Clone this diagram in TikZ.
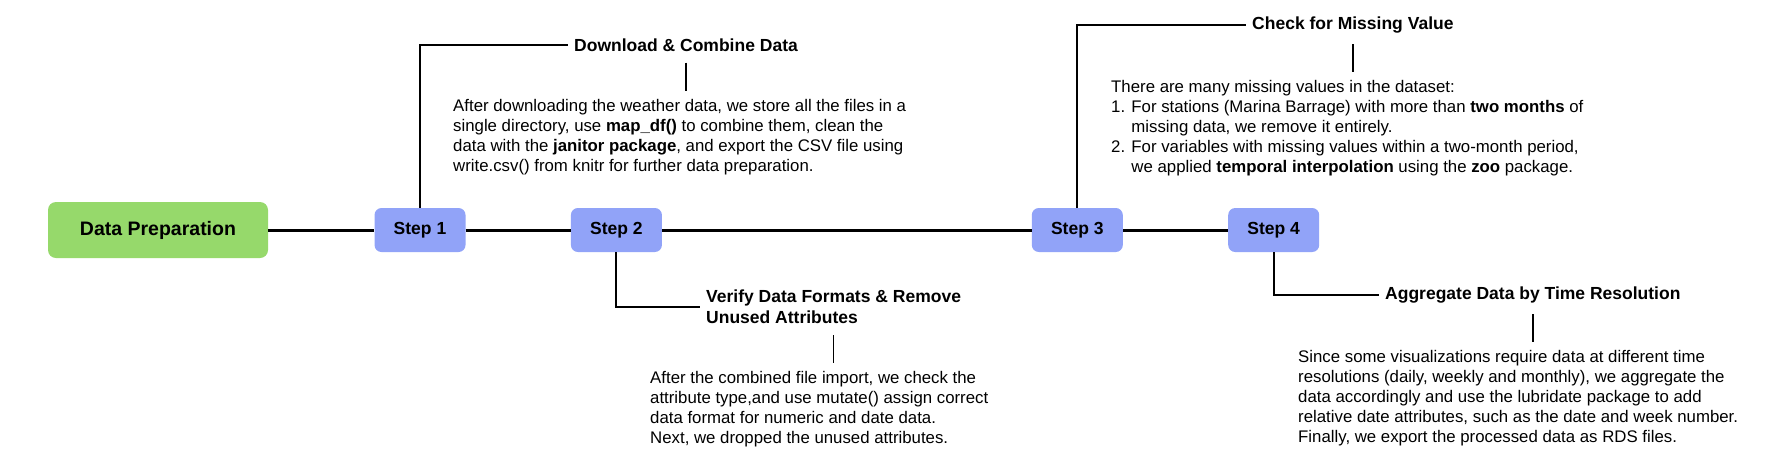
\documentclass[tikz,border=0pt]{standalone}
\usepackage{fontspec}
\setmainfont{Liberation Sans}
\usetikzlibrary{positioning}
\definecolor{prepgreen}{RGB}{150,217,107}
\definecolor{stepblue}{RGB}{145,163,248}

\begin{document}
\begin{tikzpicture}[x=1pt,y=-1pt,node distance=105pt]
    \tikzstyle{phase}=[fill=prepgreen, rounded corners=8pt, minimum width=220pt, minimum height=56pt, font=\fontsize{19.5}{22}\selectfont\bfseries]
    \tikzstyle{stepbox}=[fill=stepblue, rounded corners=7pt, minimum width=91pt, minimum height=44pt, font=\fontsize{17.5}{20}\selectfont\bfseries]
    \tikzstyle{title}=[inner xsep=6pt, inner ysep=4pt, anchor=west, align=left, font=\fontsize{17.5}{21}\selectfont\bfseries]
    \tikzstyle{body}=[inner sep=0pt, anchor=north west, align=left, font=\fontsize{16.8}{19.8}\selectfont]
    \tikzstyle{spine}=[line width=3pt]
    \tikzstyle{link}=[line width=2pt]
    \tikzstyle{tick}=[line width=1.6pt, shorten <=7pt, shorten >=9pt]

    \useasboundingbox (0,0) rectangle (1768,464);

    \node[phase]   (prep) at (158,230)         {Data Preparation};
    \node[stepbox] (s1)   at (420,230)         {Step 1};
    \node[stepbox] (s2)   [right=105pt of s1]   {Step 2};
    \node[stepbox] (s3)   [right=369.5pt of s2] {Step 3};
    \node[stepbox] (s4)   [right=105pt of s3]   {Step 4};

    % step 1
    \node[title] (t1) at (568,45) {Download \& Combine Data};
    \node[body]  (b1) at (453,99.5) {After downloading the weather data, we store all the files in a\\
        single directory, use \textbf{map\_df()} to combine them, clean the\\
        data with the \textbf{janitor package}, and export the CSV file using\\
        write.csv() from knitr for further data preparation.};

    % step 2
    \node[title] (t2) at (700,307) {Verify Data Formats \& Remove\\Unused Attributes};
    \node[body]  (b2) at (650,371.5) {After the combined file import, we check the\\
        attribute type,and use mutate() assign correct\\
        data format for numeric and date data.\\
        Next, we dropped the unused attributes.};

    % step 3
    \node[title] (t3) at (1246,25) {Check for Missing Value};
    \node[body]  (b3) at (1111,80.5) {There are many missing values in the dataset:\\
        1. For stations (Marina Barrage) with more than \textbf{two months} of\\
        \phantom{1. }missing data, we remove it entirely.\\
        2. For variables with missing values within a two-month period,\\
        \phantom{2. }we applied \textbf{temporal interpolation} using the \textbf{zoo} package.};

    % step 4
    \node[title] (t4) at (1379,295) {Aggregate Data by Time Resolution};
    \node[body]  (b4) at (1298,350.5) {Since some visualizations require data at different time\\
        resolutions (daily, weekly and monthly), we aggregate the\\
        data accordingly and use the lubridate package to add\\
        relative date attributes, such as the date and week number.\\
        Finally, we export the processed data as RDS files.};

    \path[spine]
    (prep) edge (s1)
    (s1) edge (s2)
    (s2) edge (s3)
    (s3) edge (s4);

    \draw[link] (s1.north) |- (t1.west);
    \draw[link] (s2.south) |- (t2.west);
    \draw[link] (s3.north) |- (t3.west);
    \draw[link] (s4.south) |- (t4.west);

    \draw[tick] (t1.south) -- (t1.south |- b1.north);
    \draw[tick] (t2.south) -- (t2.south |- b2.north);
    \draw[tick] (t3.south) -- (t3.south |- b3.north);
    \draw[tick] (t4.south) -- (t4.south |- b4.north);
\end{tikzpicture}
\end{document}
